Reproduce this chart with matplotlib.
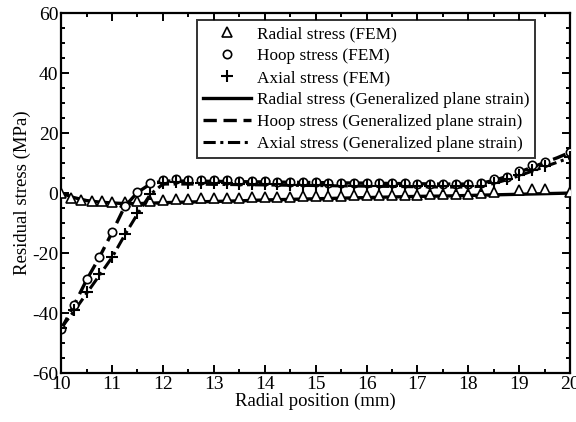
import numpy as np
import matplotlib
matplotlib.use("Agg")
import matplotlib.pyplot as plt
from matplotlib.ticker import MultipleLocator

plt.rcParams['font.family'] = ['Liberation Serif', 'DejaVu Serif']
plt.rcParams['axes.unicode_minus'] = False

# FEM nodal results
x_radial_fem = [10.0, 10.2, 10.4, 10.6, 10.8, 11.0, 11.25, 11.5, 11.75, 12.0, 12.25, 12.5, 12.75,
                13.0, 13.25, 13.5, 13.75, 14.0, 14.25, 14.5, 14.75, 15.0, 15.25, 15.5, 15.75,
                16.0, 16.25, 16.5, 16.75, 17.0, 17.25, 17.5, 17.75, 18.0, 18.25, 18.5, 19.0,
                19.25, 19.5, 20.0]
radial_fem = [0.0, -1.8, -2.3, -2.7, -2.8, -2.9, -2.9, -2.8, -2.5, -2.2, -2.0, -1.9, -1.8,
              -1.7, -1.6, -1.5, -1.4, -1.4, -1.3, -1.2, -1.1, -1.0, -1.0, -0.9, -0.8,
              -0.7, -0.7, -0.6, -0.5, -0.5, -0.4, -0.3, -0.3, -0.2, -0.1, 0.3, 1.0,
              1.2, 1.2, 0.4]

x_fem = [10.0, 10.25, 10.5, 10.75, 11.0, 11.25, 11.5, 11.75, 12.0, 12.25, 12.5, 12.75,
         13.0, 13.25, 13.5, 13.75, 14.0, 14.25, 14.5, 14.75, 15.0, 15.25, 15.5, 15.75,
         16.0, 16.25, 16.5, 16.75, 17.0, 17.25, 17.5, 17.75, 18.0, 18.25, 18.5, 18.75,
         19.0, 19.25, 19.5, 20.0]
hoop_fem = [-45.3, -37.3, -28.7, -21.2, -12.9, -4.2, 0.4, 3.3, 4.3, 4.6, 4.5, 4.4,
            4.3, 4.2, 4.1, 4.0, 3.9, 3.8, 3.8, 3.7, 3.6, 3.5, 3.5, 3.4,
            3.3, 3.3, 3.2, 3.2, 3.1, 3.1, 3.0, 3.0, 3.1, 3.4, 4.6, 5.4,
            7.4, 9.3, 10.4, 13.8]
axial_fem = [-45.0, -39.0, -32.9, -27.0, -21.2, -13.7, -6.7, -0.3, 3.3, 3.6, 3.5, 3.4,
             3.3, 3.2, 3.1, 3.0, 2.9, 2.9, 2.8, 2.7, 2.7, 2.6, 2.5, 2.5,
             2.4, 2.4, 2.3, 2.3, 2.2, 2.2, 2.2, 2.2, 2.3, 2.5, 3.3, 4.6,
             6.0, 7.7, 9.0, 12.0]

# generalized plane strain solution
x_gps = [10.0, 10.25, 10.5, 10.75, 11.0, 11.25, 11.5, 11.75, 12.0, 12.5, 13.0, 13.5, 14.0,
         14.5, 15.0, 15.5, 16.0, 16.5, 17.0, 17.5, 18.0, 18.25, 18.5, 18.75, 19.0, 19.25,
         19.5, 19.75, 20.0]
radial_gps = [0.0, -1.5, -2.5, -3.0, -3.3, -3.5, -3.5, -3.4, -3.2, -3.0, -2.8, -2.6, -2.3,
              -2.1, -1.9, -1.7, -1.5, -1.3, -1.1, -1.0, -0.8, -0.7, -0.6, -0.5, -0.4, -0.3,
              -0.2, -0.1, 0.0]
hoop_gps = [-45.5, -37.5, -29.0, -21.5, -13.2, -4.5, 0.2, 3.0, 4.0, 4.0, 3.9, 3.8, 3.7,
            3.6, 3.5, 3.4, 3.3, 3.2, 3.1, 3.0, 3.0, 3.3, 4.2, 5.5, 7.0, 8.6,
            10.2, 11.8, 13.6]
axial_gps = [-45.0, -39.5, -33.5, -27.5, -21.5, -14.0, -7.0, -0.5, 3.0, 3.0, 2.9, 2.8, 2.7,
             2.6, 2.5, 2.4, 2.3, 2.2, 2.1, 2.0, 2.0, 2.3, 3.2, 4.4, 5.8, 7.3,
             8.8, 10.3, 11.8]

fig = plt.figure(figsize=(5.76, 4.22), dpi=100)
ax = fig.add_axes([0.106, 0.116, 0.884, 0.853])

ax.plot(x_radial_fem, radial_fem, linestyle='none', marker='^', ms=6.5, mfc='white',
        mec='black', mew=1.2, label='Radial stress (FEM)', zorder=3)
ax.plot(x_fem, hoop_fem, linestyle='none', marker='o', ms=6, mfc='white',
        mec='black', mew=1.2, label='Hoop stress (FEM)', zorder=3)
ax.plot(x_fem, axial_fem, linestyle='none', marker='+', ms=8, mec='black',
        mew=1.5, label='Axial stress (FEM)', zorder=3)

ax.plot(x_gps, radial_gps, color='black', lw=2.4, ls='-',
        label='Radial stress (Generalized plane strain)')
ax.plot(x_gps, hoop_gps, color='black', lw=2.4, ls=(0, (4, 2)),
        label='Hoop stress (Generalized plane strain)')
ax.plot(x_gps, axial_gps, color='black', lw=2.2, ls=(0, (4, 1.5, 1, 1.5)),
        label='Axial stress (Generalized plane strain)')

ax.set_xlim(10, 20)
ax.set_ylim(-60, 60)
ax.xaxis.set_major_locator(MultipleLocator(1))
ax.xaxis.set_minor_locator(MultipleLocator(0.5))
ax.yaxis.set_major_locator(MultipleLocator(20))
ax.yaxis.set_minor_locator(MultipleLocator(5))
ax.tick_params(which='both', direction='in', top=True, right=True, labelsize=14, width=1.4)
ax.tick_params(which='major', length=6)
ax.tick_params(which='minor', length=3)
ax.tick_params(axis='x', pad=2)
ax.tick_params(axis='y', pad=2)
for s in ax.spines.values():
    s.set_linewidth(1.6)

ax.set_xlabel('Radial position (mm)', fontsize=13.5, labelpad=0)
ax.set_ylabel('Residual stress (MPa)', fontsize=13.5, labelpad=1)

leg = ax.legend(loc='upper right', bbox_to_anchor=(0.931, 0.981), borderaxespad=0,
                fontsize=12.4, frameon=True, fancybox=False, handlelength=2.8,
                handletextpad=0.3, labelspacing=0.35, borderpad=0.35)
leg.get_frame().set_edgecolor('black')
leg.get_frame().set_linewidth(1.4)

fig.savefig('out.png', dpi=100)
